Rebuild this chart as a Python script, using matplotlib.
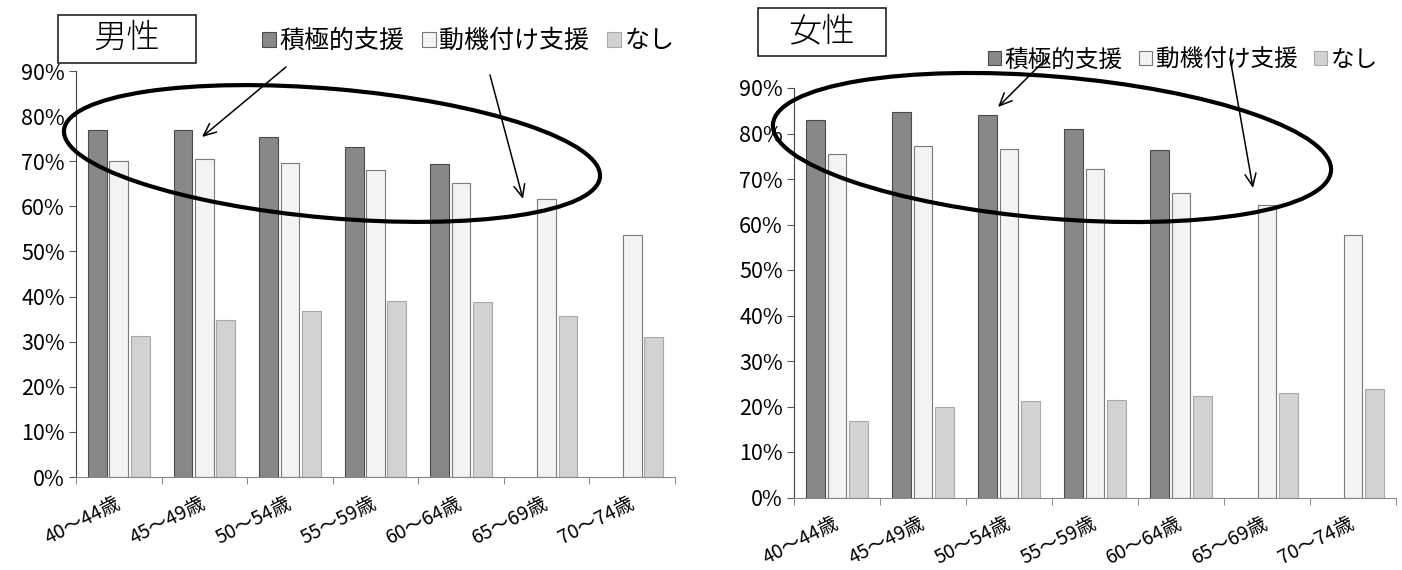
import numpy as np
import matplotlib
matplotlib.use('Agg')
import matplotlib.pyplot as plt
import matplotlib.transforms as mtransforms
from matplotlib.patches import Ellipse, Rectangle, FancyArrowPatch, Patch
from matplotlib.ticker import FixedLocator, FuncFormatter

plt.rcParams['font.family'] = ['Noto Sans CJK JP', 'DejaVu Sans']

# ---------------- data ----------------
ages = ['40～44歳', '45～49歳', '50～54歳', '55～59歳', '60～64歳', '65～69歳', '70～74歳']
series = ['積極的支援', '動機付け支援', 'なし']

male_active = [77.0, 77.0, 75.3, 73.1, 69.4, np.nan, np.nan]
male_motive = [70.1, 70.4, 69.6, 68.1, 65.2, 61.7, 53.7]
male_none = [31.3, 34.8, 36.9, 39.0, 38.8, 35.8, 31.1]

female_active = [82.9, 84.8, 84.1, 81.0, 76.3, np.nan, np.nan]
female_motive = [75.6, 77.2, 76.7, 72.1, 67.0, 64.3, 57.6]
female_none = [16.9, 19.9, 21.1, 21.5, 22.2, 22.9, 23.9]

colors = ['#888888', '#f3f3f3', '#d2d2d2']
edges = ['#4a4a4a', '#7a7a7a', '#a8a8a8']

W, H = 1402, 570
fig = plt.figure(figsize=(W / 100, H / 100), dpi=100)
fig.patch.set_facecolor('white')

# image pixel coords (y down) -> display
flip = mtransforms.Affine2D().scale(1, -1).translate(0, H)


def make_axes(rect, active, motive, none):
    ax = fig.add_axes(rect)
    x = np.arange(len(ages))
    for k, vals in enumerate([active, motive, none]):
        ax.bar(x + (k - 1) * 0.25, vals, width=0.22, color=colors[k],
               edgecolor=edges[k], linewidth=0.8, zorder=2)
    ax.set_xlim(-0.5, len(ages) - 0.5)
    ax.set_ylim(0, 90)
    ax.yaxis.set_major_locator(FixedLocator(np.arange(0, 91, 10)))
    ax.yaxis.set_major_formatter(FuncFormatter(lambda v, p: '%d%%' % v))
    ax.set_xticks(x)
    ax.set_xticklabels(ages, rotation=27, ha='right', va='top', fontsize=14)
    ax.xaxis.set_minor_locator(FixedLocator(np.arange(-0.5, len(ages), 1)))
    ax.tick_params(axis='x', which='major', length=0, pad=11)
    ax.tick_params(axis='x', which='minor', length=5, color='#777777', direction='out')
    ax.tick_params(axis='y', length=5, color='#555555', labelsize=15.5, pad=3)
    off = mtransforms.ScaledTranslation(5 / 100, 0, fig.dpi_scale_trans)
    for lab in ax.get_xticklabels():
        lab.set_transform(lab.get_transform() + off)
    for s in ['top', 'right']:
        ax.spines[s].set_visible(False)
    ax.spines['left'].set_color('#444444')
    ax.spines['bottom'].set_color('#888888')
    return ax


ax1 = make_axes([76 / W, 1 - 477 / H, 599 / W, 406 / H], male_active, male_motive, male_none)
ax2 = make_axes([794 / W, 1 - 497.5 / H, 602 / W, 409.5 / H], female_active, female_motive, female_none)

# legends
handles = [Patch(facecolor=colors[k], edgecolor=edges[k], linewidth=0.8) for k in range(3)]
for ax, (lx, ly), fs in [(ax1, (262, 41), 18), (ax2, (988, 60), 17)]:
    fig.legend(handles, series, loc='center left',
               bbox_to_anchor=(lx / W, 1 - ly / H), ncol=3, frameon=False,
               fontsize=fs, handlelength=0.55, handleheight=0.55,
               handletextpad=0.15, columnspacing=0.7, borderpad=0, borderaxespad=0)

# title boxes
for (bx0, by0, bx1, by1), txt in [((58, 15, 196, 63), '男性'), ((758, 8, 886, 56), '女性')]:
    fig.add_artist(Rectangle((bx0, by0), bx1 - bx0, by1 - by0, transform=flip,
                             facecolor='white', edgecolor='#222222', linewidth=1.2))
    fig.text((bx0 + bx1) / 2 / W, 1 - (by0 + by1) / 2 / H, txt, fontsize=24,
             ha='center', va='center', fontweight='light')

# ellipses
for (cx, cy, ew, eh, ang) in [(332, 153.5, 538, 129, 5.0), (1052, 147.5, 560, 142, 4.8)]:
    fig.add_artist(Ellipse((cx, cy), ew, eh, angle=ang, transform=flip,
                           fill=False, edgecolor='black', linewidth=3))

# arrows
for p0, p1 in [((286, 67), (202, 137)), ((490, 75), (523, 199)),
               ((1048, 57), (998, 107)), ((1230, 58), (1253, 188))]:
    fig.add_artist(FancyArrowPatch(p0, p1, transform=flip,
                                   arrowstyle='->,head_length=9,head_width=4',
                                   color='black', linewidth=1.1,
                                   shrinkA=0, shrinkB=0, mutation_scale=1))

fig.savefig('out.png', dpi=100)
